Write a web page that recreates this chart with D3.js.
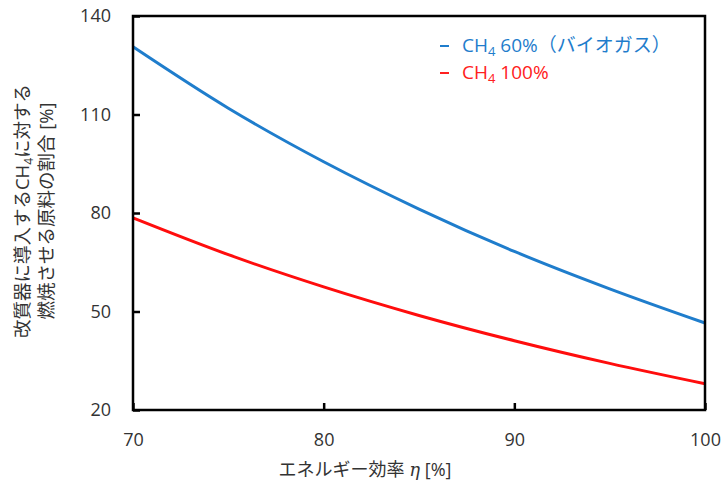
<!DOCTYPE html>
<html>
<head>
<meta charset="utf-8">
<script src="https://cdn.jsdelivr.net/npm/d3@7"></script>
<style>
  body { margin: 0; background: #fff; }
  text { font-family: "Open Sans", "Noto Sans CJK JP", sans-serif; }
</style>
</head>
<body>
<div id="chart"></div>
<script>
// values
var efficiency = [70, 75, 80, 85, 90, 95, 100];
var biogas60 = [130.6, 111.9, 95.6, 81.2, 68.3, 56.9, 46.5];
var methane100 = [78.5, 67.3, 57.5, 48.8, 41.1, 34.2, 28.0];
var xTicks = [70, 80, 90, 100];
var yTicks = [20, 50, 80, 110, 140];

var width = 722, height = 492;
var margin = {left: 133, right: 17, top: 16, bottom: 82};

var svg = d3.select('#chart').append('svg')
    .attr('width', width)
    .attr('height', height);

var x = d3.scaleLinear().domain([70, 100]).range([margin.left, width - margin.right]);
var y = d3.scaleLinear().domain([20, 140]).range([height - margin.bottom, margin.top]);

// series lines
var line = d3.line()
    .x(function(d, i) { return x(efficiency[i]); })
    .y(function(d) { return y(d); })
    .curve(d3.curveCatmullRom);

svg.append('path').datum(biogas60)
    .attr('d', line)
    .attr('fill', 'none')
    .attr('stroke', '#1f7dcc')
    .attr('stroke-width', 3);

svg.append('path').datum(methane100)
    .attr('d', line)
    .attr('fill', 'none')
    .attr('stroke', '#ff0d0d')
    .attr('stroke-width', 3);

// axes, ticks pointing inward
var yAxis = svg.append('g')
    .attr('transform', 'translate(' + margin.left + ',0)')
    .call(d3.axisLeft(y).tickValues(yTicks).tickSize(-7).tickPadding(22));
var xAxis = svg.append('g')
    .attr('transform', 'translate(0,' + (height - margin.bottom) + ')')
    .call(d3.axisBottom(x).tickValues(xTicks).tickSize(-7).tickPadding(23));

[yAxis, xAxis].forEach(function(ax) {
    ax.select('.domain').remove();
    ax.selectAll('.tick line').attr('stroke', '#000').attr('stroke-width', 2.5);
    ax.selectAll('.tick text')
        .attr('fill', '#333')
        .style('font-size', '18px');
});

// frame around plot
svg.append('rect')
    .attr('x', margin.left)
    .attr('y', margin.top)
    .attr('width', width - margin.left - margin.right)
    .attr('height', height - margin.top - margin.bottom)
    .attr('fill', 'none')
    .attr('stroke', '#000')
    .attr('stroke-width', 2.5);

// x axis title (sits left of plot centre in the original)
var xt = svg.append('text')
    .attr('x', 365)
    .attr('y', 476)
    .attr('text-anchor', 'middle')
    .attr('fill', '#333')
    .style('font-size', '18px');
xt.append('tspan').text('エネルギー効率 ');
xt.append('tspan').style('font-style', 'italic').style('font-family', 'DejaVu Serif').text('η');
xt.append('tspan').text(' [%]');

// y axis title, two lines
var yt = svg.append('g')
    .attr('transform', 'translate(0,211) rotate(-90)');
var l1 = yt.append('text')
    .attr('x', 0).attr('y', 29)
    .attr('text-anchor', 'middle')
    .attr('fill', '#333')
    .style('font-size', '18.5px');
l1.append('tspan').text('改質器に導入するCH');
l1.append('tspan').attr('dy', 4).style('font-size', '12px').text('4');
l1.append('tspan').attr('dy', -4).text('に対する');
yt.append('text')
    .attr('x', 0).attr('y', 53)
    .attr('text-anchor', 'middle')
    .attr('fill', '#333')
    .style('font-size', '18.5px')
    .text('燃焼させる原料の割合 [%]');

// legend
var legend = [
    {name: '60%（バイオガス）', color: '#1f7dcc'},
    {name: '100%', color: '#ff2020'}
];
legend.forEach(function(d, i) {
    var ly = 52 + i * 27;
    svg.append('line')
        .attr('x1', 440).attr('x2', 449)
        .attr('y1', ly - 6).attr('y2', ly - 6)
        .attr('stroke', d.color)
        .attr('stroke-width', 2);
    var t = svg.append('text')
        .attr('x', 462)
        .attr('y', ly)
        .attr('fill', d.color)
        .style('font-size', '19px');
    t.append('tspan').text('CH');
    t.append('tspan').attr('dy', 4).style('font-size', '13px').text('4');
    t.append('tspan').attr('dy', -4).text(' ' + d.name);
});
</script>
</body>
</html>
